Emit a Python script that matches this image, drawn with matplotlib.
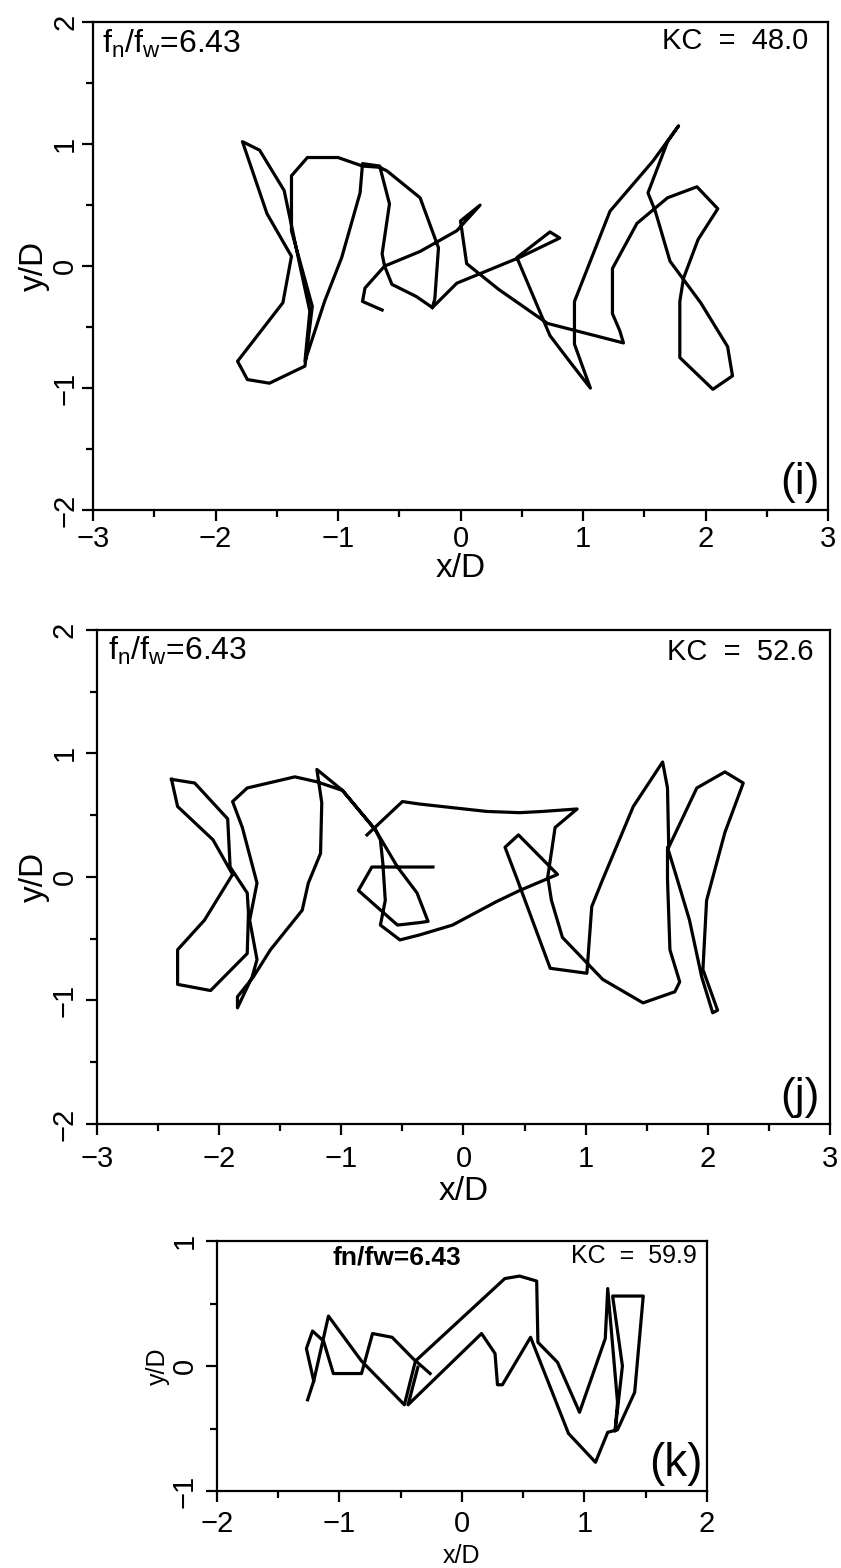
import matplotlib
matplotlib.use('Agg')
import matplotlib.pyplot as plt
from matplotlib.ticker import MultipleLocator

plt.rcParams['font.family'] = ['Liberation Sans', 'DejaVu Sans']
plt.rcParams['mathtext.default'] = 'regular'

# Cylinder trajectory, fn/fw = 6.43, KC = 48.0  (i)
i_x = [-0.64, -0.80, -0.78, -0.62, -0.64, -0.58, -0.66, -0.80, -0.82, -0.97,
       -1.11, -1.27, -1.23, -1.31, -1.44, -1.64, -1.78, -1.58, -1.38, -1.45,
       -1.82, -1.74, -1.56, -1.27, -1.21, -1.38, -1.38, -1.25, -1.00, -0.80,
       -0.66, -0.60, -0.33, -0.18, -0.21, -0.23, -0.36, -0.56, -0.62, -0.33,
       -0.03, 0.16, 0.00, 0.05, 0.31, 0.71, 1.33, 1.30, 1.24, 1.24,
       1.44, 1.69, 1.93, 2.10, 1.94, 1.82, 1.79, 1.79, 2.06, 2.22,
       2.18, 1.96, 1.71, 1.59, 1.53, 1.69, 1.78, 1.57, 1.22, 0.93,
       0.93, 1.02, 1.06, 0.92, 0.73, 0.54, 0.46, 0.73, 0.81, 0.48,
       -0.03, -0.23]
i_y = [-0.36, -0.29, -0.18, 0.00, 0.10, 0.51, 0.82, 0.84, 0.60, 0.07,
       -0.29, -0.78, -0.37, 0.00, 0.62, 0.95, 1.02, 0.43, 0.08, -0.30,
       -0.78, -0.93, -0.96, -0.82, -0.33, 0.29, 0.74, 0.89, 0.89, 0.82,
       0.81, 0.78, 0.56, 0.15, -0.27, -0.34, -0.25, -0.15, 0.00, 0.12,
       0.29, 0.50, 0.37, 0.02, -0.19, -0.47, -0.63, -0.53, -0.39, -0.02,
       0.35, 0.56, 0.65, 0.47, 0.22, -0.10, -0.29, -0.75, -1.01, -0.90,
       -0.66, -0.30, 0.04, 0.45, 0.60, 1.02, 1.15, 0.86, 0.45, -0.29,
       -0.64, -0.89, -1.00, -0.82, -0.57, -0.12, 0.07, 0.28, 0.23, 0.07,
       -0.14, -0.34]

# KC = 52.6  (j): left figure-eight loop and the main path
j_loop_x = [-2.39, -2.20, -1.93, -1.91, -1.77, -1.76, -1.77, -2.07, -2.34, -2.34,
            -2.12, -1.89, -2.05, -2.34, -2.39]
j_loop_y = [0.79, 0.76, 0.47, 0.08, -0.13, -0.29, -0.62, -0.92, -0.87, -0.59,
            -0.35, 0.02, 0.30, 0.57, 0.79]
j_x = [-0.79, -0.50, -0.36, 0.19, 0.46, 0.65, 0.93, 0.75, 0.69, 0.72,
       0.81, 1.14, 1.47, 1.73, 1.77, 1.69, 1.67, 1.67, 1.75, 1.85,
       1.95, 2.04, 2.08, 1.96, 1.99, 2.14, 2.29, 2.14, 1.91, 1.68,
       1.67, 1.63, 1.39, 1.14, 1.05, 1.01, 0.71, 0.44, 0.34, 0.45,
       0.68, 0.77, 0.46, 0.27, -0.09, -0.36, -0.52, -0.68, -0.64, -0.66,
       -0.68, -0.72, -0.99, -1.20, -1.38, -1.77, -1.89, -1.81, -1.69, -1.75,
       -1.69, -1.73, -1.85, -1.85, -1.72, -1.58, -1.32, -1.27, -1.17, -1.16,
       -1.20, -0.99, -0.72, -0.54, -0.38, -0.29, -0.36, -0.54, -0.86, -0.75,
       -0.25]
j_y = [0.34, 0.61, 0.59, 0.53, 0.52, 0.53, 0.55, 0.40, 0.00, -0.19,
       -0.49, -0.83, -1.02, -0.93, -0.85, -0.59, -0.02, 0.24, -0.02, -0.35,
       -0.81, -1.10, -1.08, -0.75, -0.19, 0.36, 0.76, 0.85, 0.72, 0.24,
       0.72, 0.93, 0.57, -0.02, -0.24, -0.78, -0.74, -0.02, 0.24, 0.34,
       0.11, 0.02, -0.11, -0.20, -0.39, -0.47, -0.51, -0.39, -0.19, 0.11,
       0.30, 0.38, 0.70, 0.77, 0.81, 0.72, 0.61, 0.40, -0.05, -0.35,
       -0.67, -0.81, -1.06, -0.97, -0.81, -0.59, -0.27, -0.05, 0.19, 0.60,
       0.87, 0.70, 0.38, 0.08, -0.13, -0.36, -0.37, -0.39, -0.11, 0.08,
       0.08]

# KC = 59.9  (k)
k1_x = [-1.26, -1.21, -1.27, -1.22, -1.13, -1.05, -0.82, -0.73, -0.57, -0.40, -0.26]
k1_y = [-0.27, -0.12, 0.14, 0.28, 0.20, -0.06, -0.06, 0.26, 0.23, 0.06, -0.06]
k2_x = [-1.21, -1.09, -0.82, -0.47, -0.38, 0.35, 0.47, 0.61, 0.62, 0.78,
        0.96, 1.17, 1.19, 1.27, 1.25, 1.31, 1.23, 1.48, 1.41, 1.27,
        1.19, 1.09, 0.87, 0.56, 0.33, 0.29, 0.27, 0.16, -0.44, -0.36]
k2_y = [-0.12, 0.40, 0.04, -0.31, 0.04, 0.70, 0.72, 0.68, 0.19, 0.03,
        -0.37, 0.22, 0.62, -0.29, -0.52, 0.00, 0.56, 0.56, -0.21, -0.51,
        -0.53, -0.77, -0.54, 0.23, -0.15, -0.15, 0.10, 0.26, -0.31, -0.01]

LW = 2.3
TICK_FS = 21


def fmt(v):
    return ('%d' % v).replace('-', '\u2212')


def setup(ax, xmax, ymax, xpad, ypad, lab_size, lab_pad_x, lab_pad_y):
    ax.set_xlim(-xmax, xmax)
    ax.set_ylim(-ymax, ymax)
    xt = list(range(-xmax, xmax + 1))
    yt = list(range(-ymax, ymax + 1))
    ax.set_xticks(xt, labels=[fmt(v) for v in xt])
    ax.set_yticks(yt, labels=[fmt(v) for v in yt], rotation=90, va='center')
    ax.xaxis.set_minor_locator(MultipleLocator(0.5))
    ax.yaxis.set_minor_locator(MultipleLocator(0.5))
    ax.tick_params(which='both', direction='out', width=1.6,
                   labelsize=TICK_FS)
    ax.tick_params(which='major', length=8)
    ax.tick_params(which='minor', length=5)
    ax.tick_params(axis='x', pad=xpad)
    ax.tick_params(axis='y', pad=ypad)
    for s in ax.spines.values():
        s.set_linewidth(1.6)
    ax.set_xlabel('x/D', fontsize=lab_size, labelpad=lab_pad_x)
    ax.set_ylabel('y/D', fontsize=lab_size, labelpad=lab_pad_y)


fig = plt.figure(figsize=(8.41, 15.68), dpi=100)

ax1 = fig.add_axes([0.1106, 0.6747, 0.8740, 0.3112])
ax1.plot(i_x, i_y, color='black', lw=LW)
setup(ax1, 3, 2, 3, 2, 24, 0, 1)
ax1.text(0.012, 0.955, r'f$_n$/f$_w$=6.43', transform=ax1.transAxes,
         fontsize=23, ha='left', va='center')
ax1.text(0.973, 0.962, 'KC  =  48.0', transform=ax1.transAxes,
         fontsize=21, ha='right', va='center')
ax1.text(0.989, 0.015, '(i)', transform=ax1.transAxes,
         fontsize=32, ha='right', va='bottom')

ax2 = fig.add_axes([0.1153, 0.2832, 0.8716, 0.3151])
ax2.plot(j_loop_x, j_loop_y, color='black', lw=LW)
ax2.plot(j_x, j_y, color='black', lw=LW)
setup(ax2, 3, 2, 7, 5, 24, 2, 1)
ax2.text(0.015, 0.957, r'f$_n$/f$_w$=6.43', transform=ax2.transAxes,
         fontsize=23, ha='left', va='center')
ax2.text(0.977, 0.955, 'KC  =  52.6', transform=ax2.transAxes,
         fontsize=21, ha='right', va='center')
ax2.text(0.986, 0.012, '(j)', transform=ax2.transAxes,
         fontsize=32, ha='right', va='bottom')

ax3 = fig.add_axes([0.2580, 0.0491, 0.5826, 0.1594])
ax3.plot(k1_x, k1_y, color='black', lw=LW)
ax3.plot(k2_x, k2_y, color='black', lw=LW)
setup(ax3, 2, 1, 6, 5, 18, 4, 1)
ax3.text(0.235, 0.936, 'fn/fw=6.43', transform=ax3.transAxes,
         fontsize=19, fontweight='bold', ha='left', va='center')
ax3.text(0.98, 0.94, 'KC  =  59.9', transform=ax3.transAxes,
         fontsize=18, ha='right', va='center')
ax3.text(0.992, 0.02, '(k)', transform=ax3.transAxes,
         fontsize=33, ha='right', va='bottom')

fig.savefig('out.png', dpi=100, facecolor='white')
